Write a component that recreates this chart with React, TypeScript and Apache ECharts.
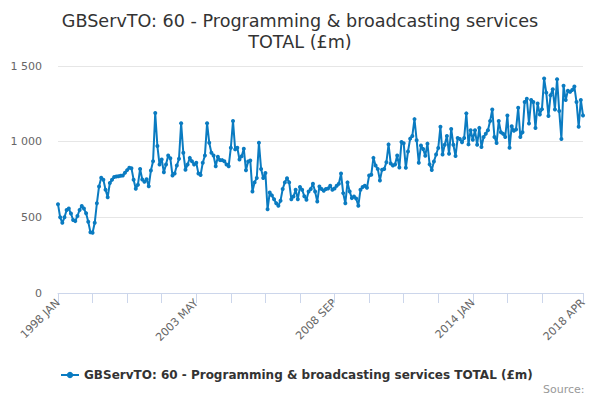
import { useEffect, useRef } from "react";
import * as echarts from "echarts";

const START_YEAR = 1998;
const MONTHS = ["JAN", "FEB", "MAR", "APR", "MAY", "JUN", "JUL", "AUG", "SEP", "OCT", "NOV", "DEC"];

const values1998to2001 = [
  587, 500, 464, 500, 549, 558, 525, 482, 475, 509, 549, 575,
  558, 527, 471, 402, 398, 464, 593, 704, 762, 749, 682, 633,
  727, 749, 767, 770, 772, 775, 776, 795, 812, 827, 825, 749,
  689, 716, 820, 750, 735, 752, 705, 810, 871, 1189, 971, 849,
];
const values2002to2005 = [
  882, 798, 849, 909, 890, 776, 790, 842, 887, 1122, 927, 815,
  849, 893, 871, 849, 860, 789, 780, 860, 909, 1122, 993, 927,
  909, 838, 900, 878, 878, 871, 849, 838, 960, 1136, 949, 960,
  882, 904, 953, 811, 869, 875, 671, 731, 760, 993, 820, 760,
];
const values2006to2009 = [
  793, 553, 664, 645, 620, 593, 576, 610, 687, 731, 758, 731,
  620, 638, 682, 620, 700, 682, 640, 616, 671, 687, 722, 670,
  604, 704, 687, 675, 687, 690, 709, 682, 690, 709, 722, 789,
  660, 593, 731, 671, 627, 638, 625, 576, 682, 700, 709, 695,
];
const values2010to2013 = [
  776, 782, 893, 842, 820, 744, 815, 820, 864, 982, 856, 842,
  849, 909, 830, 998, 989, 827, 935, 1020, 1038, 1149, 1010, 860,
  975, 951, 907, 987, 850, 813, 869, 915, 958, 1098, 915, 980,
  1038, 920, 1084, 980, 905, 1024, 1018, 996, 1024, 1187, 982, 1076,
];
const values2014to2018 = [
  1013, 1076, 980, 1091, 965, 1031, 1053, 1076, 1136, 1213, 1031, 991,
  1136, 1062, 1053, 1031, 1173, 960, 1102, 1072, 1080, 1224, 1031, 1062,
  1262, 1284, 1120, 1276, 1262, 1091, 1252, 1180, 1215, 1418, 1324, 1169,
  1307, 1347, 1213, 1413, 1202, 1018, 1369, 1276, 1336, 1329, 1342, 1364,
  1262, 1098, 1276, 1173,
];

const SERIES_NAME = "GBServTO: 60 - Programming & broadcasting services TOTAL (£m)";
const TITLE = "GBServTO: 60 - Programming & broadcasting services\nTOTAL (£m)";
const Y_TICKS = [0, 500, 1000, 1500];

const values = [
  ...values1998to2001,
  ...values2002to2005,
  ...values2006to2009,
  ...values2010to2013,
  ...values2014to2018,
];
const categories = values.map(
  (_, i) => `${START_YEAR + Math.floor(i / 12)} ${MONTHS[i % 12]}`
);
const LAST = categories.length - 1;

const FONT = "DejaVu Sans";
const COLOR = "#0a7bc1";

function fmt(v: number) {
  if (v >= 1000) {
    return `${Math.floor(v / 1000)} ${String(v % 1000).padStart(3, "0")}`;
  }
  return String(v);
}

export default function App() {
  const ref = useRef<HTMLDivElement>(null);
  useEffect(() => {
    if (!ref.current) return;
    const chart = echarts.init(ref.current, undefined, { renderer: "svg" });
    chart.setOption({
      animation: false,
      backgroundColor: "#ffffff",
      textStyle: { fontFamily: FONT },
      title: {
        text: TITLE,
        left: "center",
        top: 5,
        textStyle: {
          fontFamily: FONT,
          fontSize: 17.6,
          fontWeight: "normal",
          color: "#333333",
          lineHeight: 21,
        },
      },
      legend: {
        left: 55,
        top: 364,
        itemWidth: 18,
        itemHeight: 8,
        data: [SERIES_NAME],
        textStyle: {
          fontFamily: FONT,
          fontSize: 12,
          fontWeight: "bold",
          color: "#333333",
        },
      },
      graphic: [
        {
          type: "text",
          left: 543,
          top: 384,
          style: {
            text: "Source:",
            fontFamily: FONT,
            fontSize: 11,
            fill: "#999999",
          },
        },
      ],
      grid: { left: 58, right: 17, top: 66, bottom: 107, containLabel: false },
      xAxis: {
        type: "category",
        data: categories,
        boundaryGap: false,
        axisLine: { lineStyle: { color: "#ccd6eb", width: 1 } },
        axisTick: {
          length: 10,
          lineStyle: { color: "#ccd6eb" },
          interval: (i: number) => (i % 16 === 0 && i <= 224) || i === LAST,
        },
        axisLabel: {
          rotate: 45,
          color: "#666666",
          fontSize: 11,
          fontFamily: FONT,
          margin: 8,
          interval: (i: number) => i % 64 === 0 || i === LAST,
        },
        splitLine: { show: false },
      },
      yAxis: {
        type: "value",
        min: Y_TICKS[0],
        max: Y_TICKS[Y_TICKS.length - 1],
        interval: 500,
        axisLine: { show: false },
        axisTick: { show: false },
        splitLine: { lineStyle: { color: "#e6e6e6", width: 1 } },
        axisLabel: {
          color: "#666666",
          fontSize: 11,
          fontFamily: FONT,
          margin: 16,
          formatter: (v: number) => fmt(v),
        },
      },
      series: [
        {
          name: SERIES_NAME,
          type: "line",
          data: values,
          symbol: "circle",
          symbolSize: 4,
          showAllSymbol: true,
          color: COLOR,
          lineStyle: { width: 2, color: COLOR },
          itemStyle: { color: COLOR },
        },
      ],
    });
    return () => chart.dispose();
  }, []);
  return (
    <div
      ref={ref}
      style={{ position: "fixed", left: 0, top: 0, width: 600, height: 400 }}
    />
  );
}
